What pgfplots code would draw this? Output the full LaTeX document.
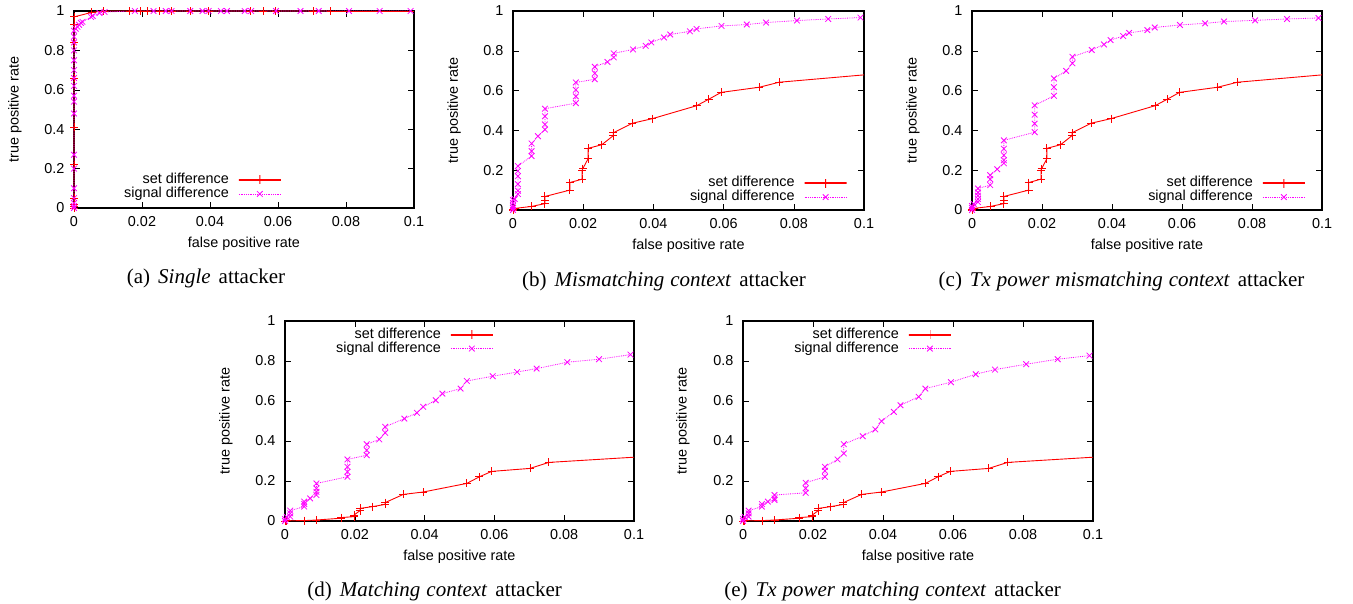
\documentclass[border=0pt]{standalone}
\usepackage{pgfplots}
\pgfplotsset{compat=1.18}
\usepackage{fontspec}
\setmainfont{Liberation Sans}
\newfontfamily\capfont{Liberation Serif}
\definecolor{setred}{RGB}{255,0,0}
\definecolor{sigmag}{RGB}{255,0,255}
\newcommand{\axfont}{\fontsize{14.4}{16}\selectfont}
\newlength\sigw \newlength\lega \newlength\legm \newlength\legb
\pgfplotsset{
 rocax/.style={
  scale only axis, anchor=south west, clip=false,
  xmin=0,xmax=0.1,ymin=0,ymax=1,
  xtick={0,0.02,0.04,0.06,0.08,0.1}, ytick={0,0.2,0.4,0.6,0.8,1},
  scaled x ticks=false, scaled y ticks=false,
  /pgf/number format/assume math mode=true,
  /pgf/number format/fixed, /pgf/number format/precision=2,
  tick align=inside, major tick length=6pt, tick style={black, line width=0.6pt},
  axis line style={line width=1.1pt},
  ticklabel style={font=\axfont},
  xticklabel style={yshift=-4.5pt},
  yticklabel style={xshift=-6pt},
  xlabel={false positive rate}, ylabel={true positive rate},
  every axis x label/.style={at={(axis description cs:0.5,0)},anchor=center,yshift=-36pt,font=\axfont},
  legend cell align=right,
  legend plot pos=left,
  legend style={draw=none, fill=none, font=\axfont, inner sep=0pt, anchor=east,
    nodes={inner sep=0pt, text height=10.5pt, text depth=3.5pt}, /tikz/column sep=0pt},
 },
 ylab/.style={every axis y label/.style={at={(axis description cs:#1,0.5)},anchor=center,rotate=90,font=\axfont}},
 setdiff/.style={color=setred, draw=setred, line width=0.9pt, mark=+, mark size=4pt, mark options={draw=setred, line width=0.9pt, solid}},
 sigdiff/.style={color=sigmag, draw=sigmag, line width=0.8pt, densely dotted, mark=x, mark size=4pt, mark options={draw=sigmag, line width=0.8pt, solid}},
}
\newcommand{\legendpair}{%
  \addlegendimage{setdiff, legend image code/.code={%
    \shade[overlay, left color=setred, right color=setred, draw=none] (\lega,-0.45pt) rectangle (\legb,0.45pt);
    \shade[overlay, left color=setred, right color=setred, draw=none] (\legm-0.45pt,-4pt) rectangle (\legm+0.45pt,4pt);}}
  \addlegendentry{set difference}
  \addlegendimage{sigdiff, legend image code/.code={%
    \draw[overlay, sigmag, line width=0.8pt, densely dotted] (\lega,0pt) -- (\legb,0pt);
    \draw[overlay, sigmag, line width=0.8pt, solid] plot[mark=x, mark size=4pt] coordinates {(\legm,0pt)};}}
  \addlegendentry{signal difference}
}
\begin{document}
\settowidth\sigw{\axfont signal difference}%
\setlength\lega{\dimexpr\sigw+10pt\relax}%
\setlength\legm{\dimexpr\sigw+31pt\relax}%
\setlength\legb{\dimexpr\sigw+52pt\relax}%
\begin{tikzpicture}
\path[use as bounding box] (0pt,0pt) rectangle (1353pt,-603pt);

% (a)
\begin{axis}[rocax, at={(74pt,-208pt)}, width=340pt, height=197pt, ylab=-0.1735,
  legend style={at={(axis description cs:0.456,0.107)}}]
\legendpair
\addplot[setdiff] coordinates {(0,0) (0,0.01) (0,0.02) (0,0.05) (0,0.22) (0,0.41) (0,0.66) (0,0.84) (0,0.93) (0,0.97) (0.0052,0.993) (0.0088,1) (0.0164,1) (0.0196,1) (0.0215,1) (0.0252,1) (0.0287,1) (0.0342,1) (0.0396,1) (0.0518,1) (0.0557,1) (0.0593,1) (0.0704,1) (0.0755,1)};
\addplot[sigdiff] coordinates {(0,0) (0,0.01) (0,0.025) (0,0.05) (0,0.1) (0,0.2) (0,0.27) (0,0.48) (0,0.54) (0,0.57) (0,0.62) (0,0.66) (0,0.7) (0,0.75) (0,0.8) (0,0.84) (0,0.87) (0,0.9) (0.0005,0.91) (0.001,0.92) (0.0015,0.93) (0.002,0.94) (0.0025,0.945) (0.005,0.97) (0.0055,0.975) (0.0075,0.99) (0.009,0.995) (0.0179,1) (0.0234,1) (0.027,1) (0.0287,1) (0.0342,1) (0.0378,1) (0.0396,1) (0.0432,1) (0.045,1) (0.0502,1) (0.0521,1) (0.0594,1) (0.0666,1) (0.072,1) (0.0809,1) (0.0899,1) (0.099,1)};
\addplot[setdiff, no marks] coordinates {(0.0755,1) (0.1,1)};
\end{axis}

% (b)
\begin{axis}[rocax, at={(513pt,-210pt)}, width=351pt, height=199pt, ylab=-0.168,
  legend style={at={(axis description cs:0.803,0.10)}}]
\legendpair
\addplot[setdiff] coordinates {(0,0) (0,0.005) (0.0005,0.008) (0.0053,0.018) (0.0091,0.032) (0.0091,0.047) (0.0091,0.068) (0.0162,0.10) (0.0162,0.138) (0.0197,0.155) (0.0197,0.20) (0.0199,0.208) (0.0214,0.258) (0.0214,0.31) (0.0253,0.328) (0.0286,0.374) (0.0286,0.388) (0.034,0.436) (0.0397,0.459) (0.0523,0.524) (0.0557,0.556) (0.0593,0.591) (0.0702,0.617) (0.0758,0.642)};
\addplot[sigdiff] coordinates {(0,0) (0,0.01) (0,0.02) (0,0.035) (0,0.05) (0.0005,0.055) (0.0014,0.08) (0.0014,0.097) (0.0014,0.13) (0.0014,0.17) (0.0014,0.196) (0.0014,0.221) (0.0053,0.271) (0.0053,0.296) (0.0053,0.334) (0.0071,0.371) (0.0091,0.404) (0.0091,0.43) (0.0091,0.471) (0.0091,0.509) (0.0179,0.537) (0.0179,0.571) (0.0179,0.604) (0.0179,0.641) (0.0233,0.657) (0.0233,0.687) (0.0233,0.72) (0.0269,0.744) (0.0287,0.767) (0.0287,0.787) (0.0342,0.807) (0.0378,0.825) (0.0394,0.842) (0.043,0.867) (0.0448,0.882) (0.0504,0.898) (0.0523,0.91) (0.0594,0.925) (0.0666,0.932) (0.0721,0.942) (0.0809,0.952) (0.0898,0.96) (0.099,0.967)};
\addplot[setdiff, no marks] coordinates {(0.0758,0.642) (0.1,0.679)};
\end{axis}

% (c)
\begin{axis}[rocax, at={(972pt,-210pt)}, width=350pt, height=199pt, ylab=-0.1686,
  legend style={at={(axis description cs:0.803,0.10)}}]
\legendpair
\addplot[setdiff] coordinates {(0,0) (0,0.005) (0.0005,0.008) (0.0053,0.018) (0.0091,0.032) (0.0091,0.047) (0.0091,0.068) (0.0162,0.10) (0.0162,0.138) (0.0197,0.155) (0.0197,0.20) (0.0199,0.208) (0.0214,0.258) (0.0214,0.31) (0.0253,0.328) (0.0286,0.374) (0.0286,0.388) (0.034,0.436) (0.0397,0.459) (0.0523,0.524) (0.0557,0.556) (0.0593,0.591) (0.0702,0.617) (0.0758,0.642)};
\addplot[sigdiff] coordinates {(0,0) (0,0.01) (0,0.02) (0.0005,0.03) (0.0017,0.04) (0.0017,0.055) (0.0017,0.072) (0.0017,0.088) (0.0017,0.108) (0.0052,0.125) (0.0052,0.155) (0.0052,0.175) (0.0072,0.205) (0.0091,0.235) (0.0091,0.25) (0.0091,0.275) (0.0091,0.308) (0.0091,0.35) (0.0179,0.391) (0.0179,0.434) (0.0179,0.479) (0.0179,0.526) (0.0234,0.574) (0.0234,0.617) (0.0234,0.661) (0.0269,0.699) (0.0287,0.737) (0.0287,0.77) (0.0342,0.804) (0.0377,0.832) (0.0396,0.854) (0.0432,0.874) (0.0449,0.89) (0.0501,0.904) (0.0522,0.917) (0.0594,0.93) (0.0666,0.938) (0.072,0.947) (0.0809,0.953) (0.09,0.96) (0.099,0.965)};
\addplot[setdiff, no marks] coordinates {(0.0758,0.642) (0.1,0.679)};
\end{axis}

% (d)
\begin{axis}[rocax, at={(285pt,-521pt)}, width=349pt, height=200pt, ylab=-0.169,
  legend style={at={(axis description cs:0.447,0.897)}}]
\legendpair
\addplot[setdiff] coordinates {(0,0) (0.0005,0.001) (0.0055,0.002) (0.009,0.005) (0.0161,0.014) (0.0161,0.017) (0.0198,0.022) (0.0198,0.03) (0.0215,0.052) (0.0215,0.063) (0.0251,0.072) (0.0287,0.083) (0.0287,0.092) (0.0339,0.133) (0.0396,0.145) (0.0521,0.188) (0.0557,0.221) (0.0592,0.248) (0.0702,0.263) (0.0756,0.293)};
\addplot[sigdiff] coordinates {(0,0) (0,0.01) (0.0005,0.02) (0.0015,0.022) (0.0015,0.038) (0.0015,0.052) (0.0055,0.072) (0.0055,0.085) (0.0055,0.097) (0.0072,0.113) (0.009,0.13) (0.009,0.146) (0.009,0.163) (0.009,0.188) (0.0179,0.221) (0.0179,0.246) (0.0179,0.271) (0.0179,0.308) (0.0234,0.329) (0.0234,0.354) (0.0234,0.384) (0.027,0.408) (0.0287,0.441) (0.0287,0.471) (0.0342,0.512) (0.0378,0.541) (0.0396,0.571) (0.0432,0.604) (0.0451,0.637) (0.0503,0.662) (0.0521,0.7) (0.0595,0.724) (0.0665,0.745) (0.0721,0.762) (0.0809,0.794) (0.09,0.809) (0.099,0.832)};
\addplot[setdiff, no marks] coordinates {(0.0756,0.293) (0.1,0.319)};
\end{axis}

% (e)
\begin{axis}[rocax, at={(743pt,-521pt)}, width=350pt, height=200pt, ylab=-0.1714,
  legend style={at={(axis description cs:0.446,0.897)}}]
\legendpair
\addplot[setdiff] coordinates {(0,0) (0.0005,0.001) (0.0055,0.002) (0.009,0.005) (0.0161,0.014) (0.0161,0.017) (0.0198,0.022) (0.0198,0.03) (0.0215,0.052) (0.0215,0.063) (0.0251,0.072) (0.0287,0.083) (0.0287,0.092) (0.0339,0.133) (0.0396,0.145) (0.0521,0.188) (0.0557,0.221) (0.0592,0.248) (0.0702,0.263) (0.0756,0.293)};
\addplot[sigdiff] coordinates {(0,0) (0,0.01) (0.0005,0.02) (0.0016,0.022) (0.0016,0.038) (0.0016,0.052) (0.0054,0.072) (0.0054,0.085) (0.0071,0.097) (0.009,0.105) (0.009,0.113) (0.009,0.13) (0.0179,0.141) (0.0179,0.163) (0.0179,0.191) (0.0234,0.221) (0.0234,0.251) (0.0234,0.271) (0.027,0.308) (0.0288,0.338) (0.0288,0.384) (0.0342,0.424) (0.0378,0.458) (0.0396,0.499) (0.0431,0.546) (0.045,0.579) (0.0502,0.621) (0.0521,0.662) (0.0594,0.694) (0.0665,0.734) (0.072,0.757) (0.0809,0.784) (0.0899,0.809) (0.099,0.827)};
\addplot[setdiff, no marks] coordinates {(0.0756,0.293) (0.1,0.319)};
\end{axis}

% captions
\begin{scope}[every node/.style={font=\capfont\fontsize{21}{24}\selectfont, anchor=base, inner sep=0pt}]
\node at (206pt,-283pt) {(a)\hspace{8pt}\textit{Single}\hspace{8pt}attacker};
\node at (664pt,-286pt) {(b)\hspace{8pt}\textit{Mismatching\hspace{6pt}context}\hspace{8pt}attacker};
\node at (1121.5pt,-286pt) {(c)\hspace{8pt}\textit{Tx\hspace{6pt}power\hspace{6pt}mismatching\hspace{6pt}context}\hspace{8pt}attacker};
\node at (434.7pt,-596pt) {(d)\hspace{8pt}\textit{Matching\hspace{6pt}context}\hspace{8pt}attacker};
\node at (892.6pt,-596pt) {(e)\hspace{8pt}\textit{Tx\hspace{6pt}power\hspace{6pt}matching\hspace{6pt}context}\hspace{8pt}attacker};
\end{scope}
\end{tikzpicture}
\end{document}
